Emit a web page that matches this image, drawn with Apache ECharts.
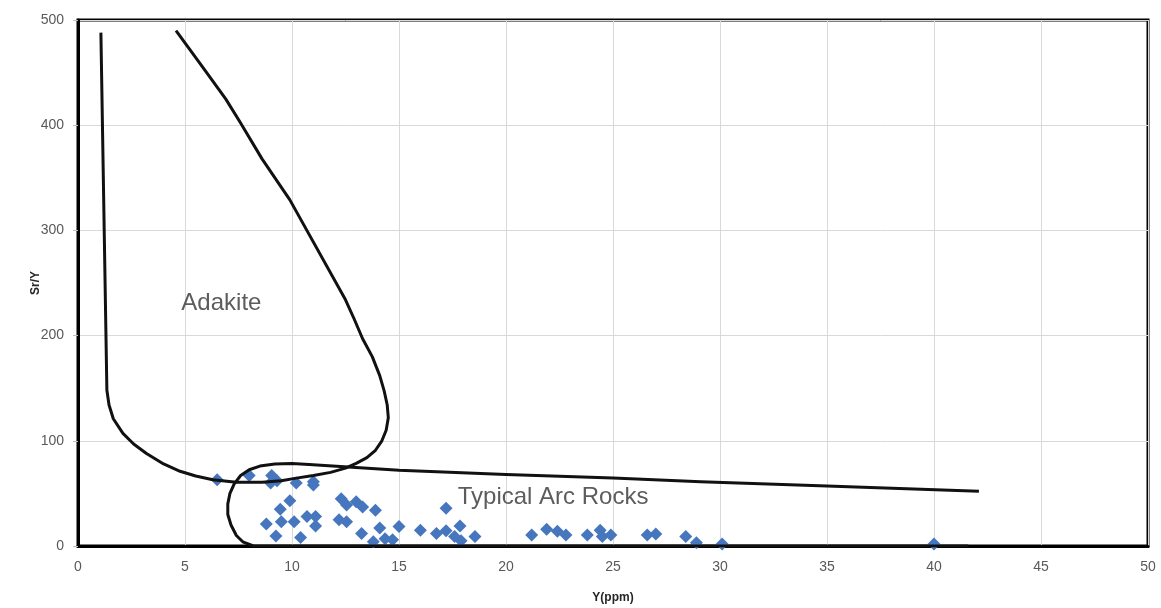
<!DOCTYPE html>
<html>
<head>
<meta charset="utf-8">
<script src="https://cdn.jsdelivr.net/npm/echarts@6/dist/echarts.min.js"></script>
<style>
  html, body { margin: 0; padding: 0; background: #fff; }
  #chart { width: 1161px; height: 608px; }
</style>
</head>
<body>
<div id="chart"></div>
<script>
// Sample analyses: Y (ppm) and Sr/Y ratio
const sampleY = [6.5, 8.0, 9.05, 9.0, 9.3, 10.2, 11.0, 11.0, 9.9, 9.45, 8.8, 9.5, 10.1, 9.25, 10.4,
  10.7, 11.1, 11.1, 12.3, 12.55, 13.0, 13.3, 13.9, 12.2, 12.55, 13.25, 14.1, 15.0, 14.35, 13.8,
  14.7, 16.0, 16.75, 17.2, 17.2, 17.85, 17.6, 18.55, 17.9, 21.2, 21.9, 22.4, 22.8, 23.8, 24.4,
  24.5, 24.9, 26.6, 27.0, 28.4, 28.9, 30.1, 40.0];
const sampleSrY = [63, 67, 67, 60, 62, 60, 61, 58, 43, 35, 21, 23, 23, 9.5, 8,
  28, 28, 19, 45, 39, 42, 37, 34, 25, 23, 12, 17, 18.5, 7, 4,
  6, 15, 12, 36, 14.5, 19, 9, 9, 5, 10.5, 16, 14, 10.5, 10.5, 15,
  9, 10.5, 10.5, 11.5, 9, 3, 2, 2];

// Adakite field boundary (traced from the top of the left limb, round the base, up the right limb)
const adakiteY = [1.07, 1.35, 1.45, 1.65, 2.1, 2.6, 3.2, 4.0, 4.77, 5.5, 6.3, 7.4, 8.6, 9.5,
  10.2, 11.0, 11.8, 12.5, 13.0, 13.5, 13.9, 14.2, 14.4, 14.5, 14.45, 14.3, 14.1, 13.75,
  13.3, 12.9, 12.5, 9.9, 8.6, 7.57, 6.9, 5.8, 4.58];
const adakiteSrY = [488, 148, 134, 121, 107, 97, 88, 78, 71, 66.5, 63, 60.5, 60.5, 62,
  64.5, 67, 70, 74, 78.5, 84, 91, 100, 110, 122, 134, 148, 162, 180,
  197, 216, 234, 329, 368, 403, 425, 456, 490];

// Typical arc rocks field boundary (base, round the left nose, then the upper limit)
const arcY = [41.6, 8.2, 7.7, 7.4, 7.15, 7.0, 7.0, 7.1, 7.3, 7.6, 8.0, 8.5, 9.2, 10.0, 10.8,
  15.0, 20.0, 25.0, 29.1, 35.0, 42.1];
const arcSrY = [0, 0, 4, 10, 20, 30, 40, 50, 59, 67, 72.5, 76, 78, 78.5, 77.5,
  72, 68, 64.6, 61, 57, 52];

// Field names and where they sit
const fieldNames = ['Adakite', 'Typical Arc Rocks'];
const fieldNameY = [6.7, 22.2];
const fieldNameSrY = [231, 46];

// Axis setup
const xMin = 0, xMax = 50, xStep = 5;
const yMin = 0, yMax = 500, yStep = 100;

const zip = (a, b) => a.map((v, i) => [v, b[i]]);

const chart = echarts.init(document.getElementById('chart'), null, { renderer: 'canvas' });

const axisFont = { color: '#595959', fontSize: 14, fontFamily: 'Liberation Sans, Arial, sans-serif' };
const nameFont = { color: '#262626', fontSize: 12, fontWeight: 'bold', fontFamily: 'Liberation Sans, Arial, sans-serif' };

chart.setOption({
  animation: false,
  backgroundColor: '#ffffff',
  grid: {
    left: 78, right: 13, top: 20, bottom: 62,
    outerBoundsMode: 'none', containLabel: false,
    show: true, borderColor: '#000', borderWidth: 3, backgroundColor: 'transparent'
  },
  xAxis: {
    type: 'value', min: xMin, max: xMax, interval: xStep,
    name: 'Y(ppm)', nameLocation: 'middle', nameGap: 46, nameMoveOverlap: false,
    nameTextStyle: nameFont,
    axisLine: { show: true, onZero: false, lineStyle: { color: '#000', width: 3 } },
    axisTick: { show: false },
    axisLabel: Object.assign({ margin: 14 }, axisFont),
    splitLine: { show: true, lineStyle: { color: '#d9d9d9', width: 1 } }
  },
  yAxis: {
    type: 'value', min: yMin, max: yMax, interval: yStep,
    name: 'Sr/Y', nameLocation: 'middle', nameGap: 36, nameRotate: 90, nameMoveOverlap: false,
    nameTextStyle: nameFont,
    axisLine: { show: true, onZero: false, lineStyle: { color: '#000', width: 3 } },
    axisTick: { show: true, length: 5, lineStyle: { color: '#bfbfbf' } },
    axisLabel: Object.assign({ margin: 14 }, axisFont),
    splitLine: { show: true, lineStyle: { color: '#d9d9d9', width: 1 } }
  },
  series: [
    {
      name: 'Samples',
      type: 'scatter',
      symbol: 'diamond',
      symbolSize: 13,
      itemStyle: { color: '#4677be', opacity: 1 },
      data: zip(sampleY, sampleSrY),
      z: 2
    },
    {
      name: 'Adakite field',
      type: 'line',
      data: zip(adakiteY, adakiteSrY),
      showSymbol: false,
      smooth: false,
      lineStyle: { color: '#111', width: 3, join: 'round' },
      z: 3
    },
    {
      name: 'Arc field',
      type: 'line',
      data: zip(arcY, arcSrY),
      showSymbol: false,
      smooth: false,
      lineStyle: { color: '#111', width: 3, join: 'round' },
      z: 3
    },
    {
      name: 'Field names',
      type: 'scatter',
      symbolSize: 0,
      data: fieldNames.map((n, i) => ({ name: n, value: [fieldNameY[i], fieldNameSrY[i]] })),
      label: {
        show: true, position: 'inside', formatter: p => p.name,
        color: '#333', fontSize: 24, fontFamily: 'Liberation Sans, Arial, sans-serif'
      },
      silent: true,
      z: 4
    }
  ]
});
</script>
</body>
</html>
